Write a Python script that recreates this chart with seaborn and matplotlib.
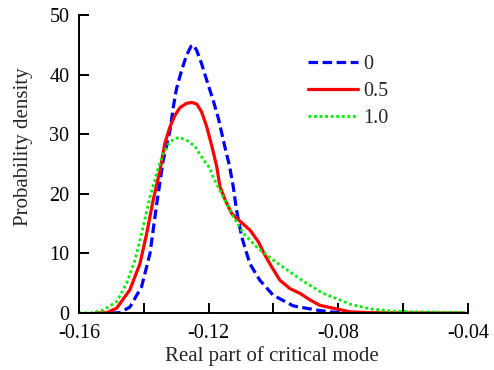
import pandas as pd
import seaborn as sns
import matplotlib.pyplot as plt

# values
x_0 = [-0.150, -0.1474, -0.1443, -0.1407, -0.1381, -0.136, -0.134, -0.1319, -0.1309,
       -0.1299, -0.1283, -0.1268, -0.1254, -0.1247, -0.1237, -0.1222, -0.1206, -0.1186,
       -0.117, -0.115, -0.1136, -0.1124, -0.1114, -0.1098, -0.1073, -0.1042, -0.1001,
       -0.0939, -0.0867, -0.0826, -0.0786]
y_0 = [0.0, 0.05, 1.0, 4.4, 10.0, 18.4, 25.7, 30.7, 34.6,
       37.7, 40.8, 43.3, 44.8, 45.0, 44.1, 41.9, 39.1, 35.7,
       32.7, 27.9, 24.8, 21.2, 17.3, 12.8, 8.3, 5.5, 3.0,
       1.2, 0.5, 0.2, 0.0]

x_05 = [-0.155, -0.1515, -0.1484, -0.1443, -0.1412, -0.1391, -0.1371, -0.135, -0.1335,
        -0.1319, -0.1304, -0.1288, -0.1268, -0.1252, -0.1237, -0.1222, -0.1206, -0.1191,
        -0.1175, -0.1165, -0.1149, -0.1129, -0.1103, -0.1072, -0.1047, -0.1026, -0.1006,
        -0.098, -0.0949, -0.0918, -0.0887, -0.0857, -0.0815, -0.0764, -0.070, -0.060,
        -0.050, -0.041]
y_05 = [0.0, 0.05, 0.8, 3.9, 8.3, 13.4, 19.0, 24.0, 28.5,
        31.3, 33.2, 34.5, 35.2, 35.35, 35.1, 33.8, 31.3, 28.2,
        24.6, 21.2, 19.0, 16.7, 15.4, 13.9, 12.0, 9.7, 7.8,
        5.5, 4.1, 3.3, 2.2, 1.3, 0.8, 0.2, 0.05, 0.02,
        0.01, 0.0]

x_10 = [-0.160, -0.1556, -0.1525, -0.1484, -0.1453, -0.1427, -0.1402, -0.1381, -0.1355,
        -0.134, -0.1319, -0.1292, -0.1268, -0.1242, -0.1227, -0.121, -0.1196, -0.1186,
        -0.1155, -0.1124, -0.1093, -0.1052, -0.1001, -0.0949, -0.0898, -0.0847, -0.080,
        -0.0764, -0.0702, -0.064, -0.057, -0.0416]
y_10 = [0.0, 0.05, 0.5, 1.9, 5.0, 8.9, 14.5, 19.5, 24.5,
        26.8, 28.8, 29.5, 29.0, 28.0, 26.6, 25.3, 24.3, 22.8,
        19.5, 16.2, 13.4, 11.1, 8.9, 6.9, 5.0, 3.3, 2.3,
        1.5, 0.7, 0.35, 0.2, 0.1]

sns.set_style('ticks')
plt.rcParams['font.family'] = ['Liberation Serif', 'DejaVu Serif']

fig, ax = plt.subplots(figsize=[4.94, 3.70], dpi=100)
fig.subplots_adjust(left=0.16, right=0.947, bottom=0.154, top=0.959)

sns.lineplot(x=x_0, y=y_0, ax=ax, color='#0000ff', lw=2.3,
             linestyle=(0, (3, 1.4)), label='0')
sns.lineplot(x=x_05, y=y_05, ax=ax, color='#ff0000', lw=2.3,
             linestyle='-', label='0.5')
sns.lineplot(x=x_10, y=y_10, ax=ax, color='#00ee00', lw=2.0,
             linestyle=(0, (1, 1)), label='1.0')

ax.set_xlim(-0.16, -0.04)
ax.set_ylim(0, 50)
ax.set_xticks([-0.16, -0.12, -0.08, -0.04])
ax.set_xticklabels(['-0.16', '-0.12', '-0.08', '-0.04'])
ax.set_xticks([-0.14, -0.10, -0.06], minor=True)
ax.set_yticks([0, 10, 20, 30, 40, 50])
ax.tick_params(axis='both', which='both', direction='in', length=7, width=1.4,
               labelsize=14.5, color='black', labelcolor='black')
ax.tick_params(axis='x', which='major', pad=8)
ax.tick_params(axis='y', which='major', pad=7)
for side in ['top', 'right']:
    ax.spines[side].set_visible(False)
for side in ['left', 'bottom']:
    ax.spines[side].set_linewidth(1.4)
    ax.spines[side].set_color('black')

ax.set_xlabel('Real part of critical mode', size=15)
ax.set_ylabel('Probability density', size=15)
ax.xaxis.set_label_coords(0.495, -0.111)
ax.yaxis.set_label_coords(-0.118, 0.557)

ax.legend(loc='upper left', bbox_to_anchor=(0.542, 0.927), frameon=False,
          fontsize=14.5, handlelength=2.5, handletextpad=0.25, labelspacing=0.38)

fig.savefig('out.png', dpi=100)
